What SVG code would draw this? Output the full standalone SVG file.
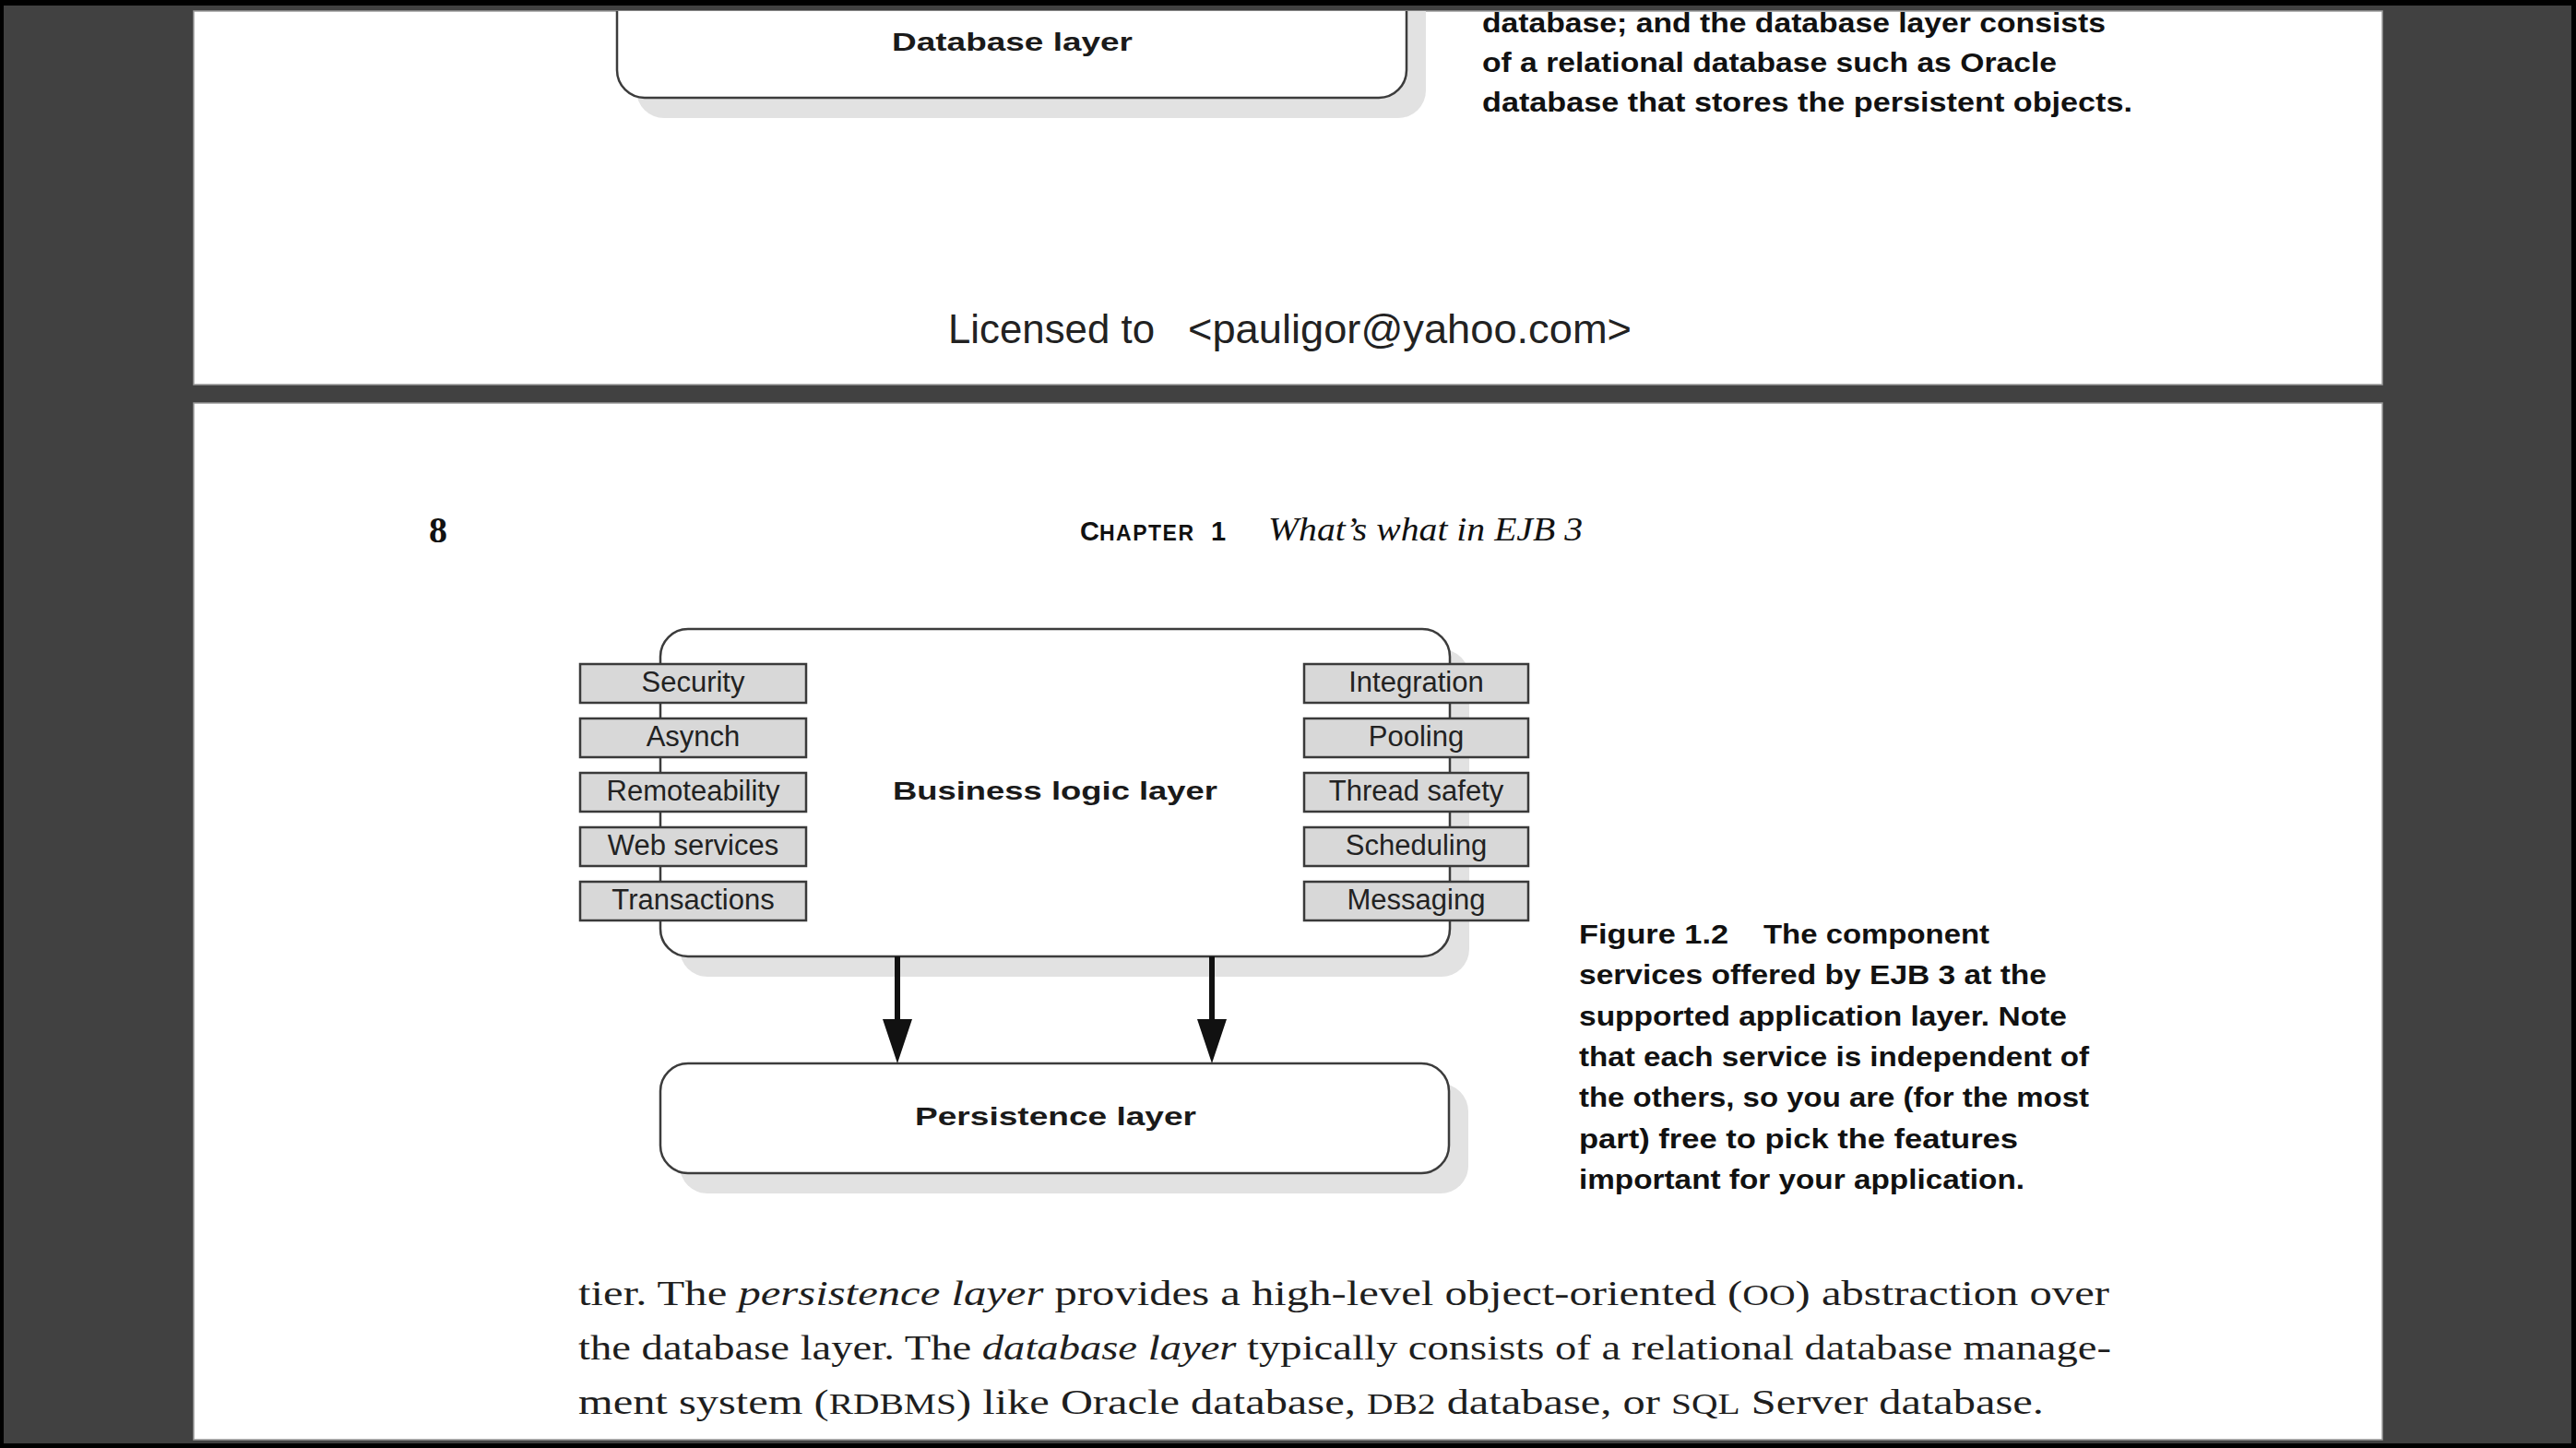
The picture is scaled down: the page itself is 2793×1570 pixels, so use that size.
<svg xmlns="http://www.w3.org/2000/svg" width="2793" height="1570" viewBox="0 0 2793 1570">
<defs>
<style>
.page{fill:#ffffff;stroke:#9a9a9a;stroke-width:1.5}
.layer{fill:#ffffff;stroke:#3c3c3c;stroke-width:2.5}
.shadow{fill:#e2e2e2}
.svc{fill:#d8d8d8;stroke:#3a3a3a;stroke-width:2.5}
.svct{font-family:"Liberation Sans",Arial,sans-serif;font-size:31px;fill:#222222;text-anchor:middle}
.lbl{font-family:"Liberation Sans",Arial,sans-serif;font-size:28px;font-weight:bold;fill:#1a1a1a}
.cap{font-family:"Liberation Sans",Arial,sans-serif;font-size:29px;font-weight:bold;fill:#111111}
.body{font-family:"Liberation Serif","Times New Roman",serif;font-size:38px;fill:#1e1e1e}
.conn{stroke:#111111;stroke-width:6;fill:none}
</style>
<marker id="ah" markerUnits="userSpaceOnUse" viewBox="0 0 50 34" markerWidth="50" markerHeight="34" refX="5" refY="16" orient="auto">
<path d="M0,0 L48,16 L0,32 Z" fill="#111111"/>
</marker>
<clipPath id="p1"><rect x="210" y="12" width="2373" height="405"/></clipPath>
</defs>

<rect x="0" y="0" width="2793" height="1570" fill="#000000"/>
<rect x="4" y="6" width="2784" height="1559" fill="#414141"/>
<rect class="page" x="210" y="12" width="2373" height="405"/>
<rect class="page" x="210" y="437" width="2373" height="1124"/>

<!-- page 1 -->
<g id="database-layer" clip-path="url(#p1)">
<rect class="shadow" x="690" y="-40" width="856" height="168" rx="30"/>
<rect class="layer" x="669" y="-62" width="856" height="168" rx="30"/>
<text class="lbl" x="967" y="55" textLength="261" lengthAdjust="spacingAndGlyphs">Database layer</text>
</g>
<g id="page1-caption">
<text class="cap" x="1607" y="35" textLength="676" lengthAdjust="spacingAndGlyphs">database; and the database layer consists</text>
<text class="cap" x="1607" y="78" textLength="623" lengthAdjust="spacingAndGlyphs">of a relational database such as Oracle</text>
<text class="cap" x="1607" y="121" textLength="705" lengthAdjust="spacingAndGlyphs">database that stores the persistent objects.</text>
</g>
<g id="license">
<text x="1028" y="372" font-family="Liberation Sans, Arial, sans-serif" font-size="44" fill="#222222" textLength="224" lengthAdjust="spacingAndGlyphs">Licensed to</text>
<text x="1288" y="372" font-family="Liberation Sans, Arial, sans-serif" font-size="44" fill="#222222" textLength="481" lengthAdjust="spacingAndGlyphs">&lt;pauligor@yahoo.com&gt;</text>
</g>

<!-- page 2 header -->
<g id="header">
<text x="465" y="588" font-family="Liberation Serif, Times New Roman, serif" font-size="40" font-weight="bold" fill="#111111">8</text>
<text x="1171" y="586" font-family="Liberation Sans, Arial, sans-serif" font-weight="bold" fill="#111111"><tspan font-size="29">C</tspan><tspan font-size="23" letter-spacing="1.5">HAPTER</tspan></text>
<text x="1313" y="586" font-family="Liberation Sans, Arial, sans-serif" font-weight="bold" font-size="29" fill="#111111">1</text>
<text x="1375" y="586" font-family="Liberation Serif, Times New Roman, serif" font-style="italic" font-size="35" fill="#111111" textLength="341" lengthAdjust="spacingAndGlyphs">What’s what in EJB 3</text>
</g>

<!-- diagram -->
<g id="business-logic-layer">
<rect class="shadow" x="737" y="704" width="856" height="355" rx="30"/>
<rect class="layer" x="716" y="682" width="856" height="355" rx="30"/>
<text class="lbl" x="968" y="867" textLength="352" lengthAdjust="spacingAndGlyphs">Business logic layer</text>
</g>

<g id="svc-security"><rect class="svc" x="629" y="720" width="245" height="42"/><text class="svct" x="751.5" y="750">Security</text></g>
<g id="svc-asynch"><rect class="svc" x="629" y="779" width="245" height="42"/><text class="svct" x="751.5" y="809">Asynch</text></g>
<g id="svc-remoteability"><rect class="svc" x="629" y="838" width="245" height="42"/><text class="svct" x="751.5" y="868">Remoteability</text></g>
<g id="svc-webservices"><rect class="svc" x="629" y="897" width="245" height="42"/><text class="svct" x="751.5" y="927">Web services</text></g>
<g id="svc-transactions"><rect class="svc" x="629" y="956" width="245" height="42"/><text class="svct" x="751.5" y="986">Transactions</text></g>

<g id="svc-integration"><rect class="svc" x="1414" y="720" width="243" height="42"/><text class="svct" x="1535.5" y="750">Integration</text></g>
<g id="svc-pooling"><rect class="svc" x="1414" y="779" width="243" height="42"/><text class="svct" x="1535.5" y="809">Pooling</text></g>
<g id="svc-threadsafety"><rect class="svc" x="1414" y="838" width="243" height="42"/><text class="svct" x="1535.5" y="868">Thread safety</text></g>
<g id="svc-scheduling"><rect class="svc" x="1414" y="897" width="243" height="42"/><text class="svct" x="1535.5" y="927">Scheduling</text></g>
<g id="svc-messaging"><rect class="svc" x="1414" y="956" width="243" height="42"/><text class="svct" x="1535.5" y="986">Messaging</text></g>

<g id="persistence-layer">
<rect class="shadow" x="737" y="1175" width="855" height="119" rx="30"/>
<rect class="layer" x="716" y="1153" width="855" height="119" rx="30"/>
<text class="lbl" x="992" y="1220" textLength="305" lengthAdjust="spacingAndGlyphs">Persistence layer</text>
</g>

<g id="connectors">
<path class="conn" d="M973,1037 L973,1110" marker-end="url(#ah)"/>
<path class="conn" d="M1314,1037 L1314,1110" marker-end="url(#ah)"/>
</g>

<g id="figure-caption">
<text class="cap" x="1712" y="1023" textLength="162" lengthAdjust="spacingAndGlyphs">Figure 1.2</text>
<text class="cap" x="1912" y="1023" textLength="245" lengthAdjust="spacingAndGlyphs">The component</text>
<text class="cap" x="1712" y="1067" textLength="507" lengthAdjust="spacingAndGlyphs">services offered by EJB 3 at the</text>
<text class="cap" x="1712" y="1112" textLength="529" lengthAdjust="spacingAndGlyphs">supported application layer. Note</text>
<text class="cap" x="1712" y="1156" textLength="553" lengthAdjust="spacingAndGlyphs">that each service is independent of</text>
<text class="cap" x="1712" y="1200" textLength="553" lengthAdjust="spacingAndGlyphs">the others, so you are (for the most</text>
<text class="cap" x="1712" y="1245" textLength="476" lengthAdjust="spacingAndGlyphs">part) free to pick the features</text>
<text class="cap" x="1712" y="1289" textLength="483" lengthAdjust="spacingAndGlyphs">important for your application.</text>
</g>

<g id="body-text">
<text class="body" x="627" y="1415" textLength="1660" lengthAdjust="spacingAndGlyphs">tier. The <tspan font-style="italic">persistence layer</tspan> provides a high-level object-oriented (<tspan font-size="31">OO</tspan>) abstraction over</text>
<text class="body" x="627" y="1474" textLength="1662" lengthAdjust="spacingAndGlyphs">the database layer. The <tspan font-style="italic">database layer</tspan> typically consists of a relational database manage-</text>
<text class="body" x="627" y="1533" textLength="1589" lengthAdjust="spacingAndGlyphs">ment system (<tspan font-size="31">RDBMS</tspan>) like Oracle database, <tspan font-size="31">DB2</tspan> database, or <tspan font-size="31">SQL</tspan> Server database.</text>
</g>
</svg>
